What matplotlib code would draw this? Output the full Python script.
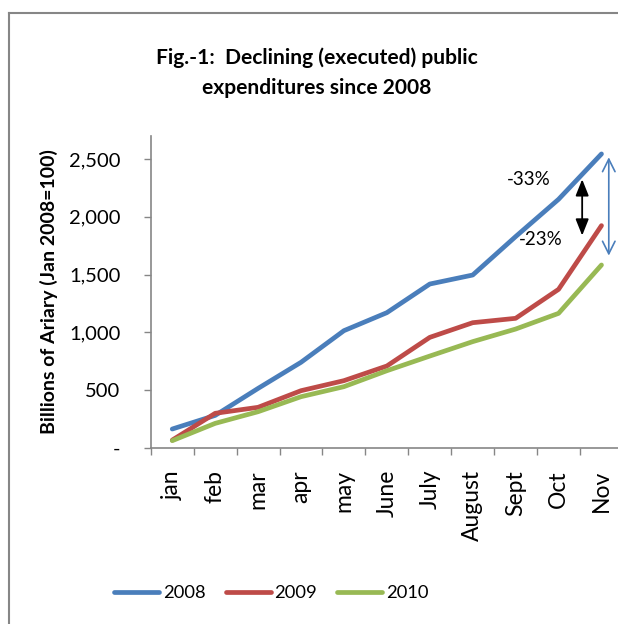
import numpy as np
import matplotlib
matplotlib.use("Agg")
import matplotlib.pyplot as plt
from matplotlib.lines import Line2D

plt.rcParams['font.family'] = ['Lato', 'DejaVu Sans']

months = ["jan", "feb", "mar", "apr", "may", "June", "July", "August", "Sept", "Oct", "Nov"]
exp_2008 = [162, 280, 514, 740, 1014, 1170, 1418, 1496, 1829, 2152, 2545]
exp_2009 = [66, 298, 350, 494, 581, 708, 956, 1083, 1121, 1372, 1924]
exp_2010 = [61, 211, 312, 442, 529, 667, 794, 919, 1028, 1164, 1583]
yticks = [0, 500, 1000, 1500, 2000, 2500]
ytick_labels = ["-", "500", "1,000", "1,500", "2,000", "2,500"]

blue = "#4a7ebb"
red = "#be4b48"
green = "#98b954"
axis_grey = "#868686"

fig = plt.figure(figsize=(6.18, 6.24), dpi=100)
ax = fig.add_axes([0.244, 0.2825, 0.764, 0.4995])

x = np.arange(len(months))
for vals, col, lab in [(exp_2008, blue, "2008"), (exp_2009, red, "2009"), (exp_2010, green, "2010")]:
    ax.plot(x, vals, color=col, lw=3.4, solid_capstyle='round', solid_joinstyle='round', label=lab)

ax.set_xlim(-0.5, len(months) - 0.5)
ax.set_ylim(0, 2700)
ax.set_yticks(yticks)
ax.set_yticklabels(ytick_labels, fontsize=14.5)
ax.set_xticks(x)
ax.set_xticklabels(months, rotation=90, fontsize=16.5)
ax.set_xticks(np.arange(-0.5, len(months) - 0.4, 1), minor=True)
ax.tick_params(axis='x', which='major', length=0, pad=16)
ax.tick_params(axis='x', which='minor', length=5, width=1, color=axis_grey, direction='out')
ax.tick_params(axis='y', length=5, width=1, color=axis_grey, pad=17)

for side in ('top', 'right'):
    ax.spines[side].set_visible(False)
for side in ('left', 'bottom'):
    ax.spines[side].set_color(axis_grey)
    ax.spines[side].set_linewidth(1.2)

ax.set_ylabel("Billions of Ariary (Jan 2008=100)", fontsize=14, fontweight='bold', labelpad=8)

# gap between 2008 and 2010 in November
ax.annotate("", xy=(10.17, 1640), xytext=(10.17, 2540),
            arrowprops=dict(arrowstyle='<->,head_length=0.9,head_width=0.45', color=blue, lw=1.2))
# gap between 2008 and 2009 in October
ax.annotate("", xy=(9.55, 1814), xytext=(9.55, 2349),
            arrowprops=dict(arrowstyle='<|-|>,head_length=1.0,head_width=0.4', color='black', lw=1.3))
ax.text(8.3, 2320, "-33%", fontsize=13.5, ha='center', va='center')
ax.text(8.58, 1800, "-23%", fontsize=13.5, ha='center', va='center')

fig.text(0.512, 0.883, "Fig.-1:  Declining (executed) public\nexpenditures since 2008",
         ha='center', va='center', fontsize=15.1, fontweight='bold', linespacing=1.6)

ax.legend(loc='center', bbox_to_anchor=(0.255, -0.466),
          ncol=3, frameon=False, fontsize=13.2, handlelength=2.45, columnspacing=1.1, handletextpad=0.2)

# chart frame
fig.add_artist(Line2D([0.0145, 0.0145], [0, 0.979], transform=fig.transFigure, color=axis_grey, lw=1.5))
fig.add_artist(Line2D([0.0145, 1.0], [0.979, 0.979], transform=fig.transFigure, color=axis_grey, lw=1.5))

fig.savefig("out.png", dpi=100)
